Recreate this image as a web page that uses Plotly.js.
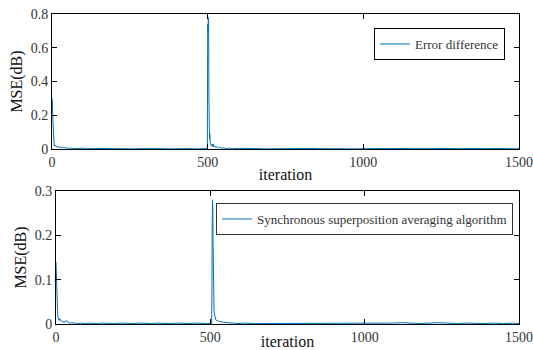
<!DOCTYPE html>
<html>
<head>
<meta charset="utf-8">
<script src="https://cdn.plot.ly/plotly-3.0.1.min.js"></script>
<style>html,body{margin:0;padding:0;background:#fff;}#chart{width:533px;height:350px;}</style>
</head>
<body>
<div id="chart"></div>
<script>
// Top panel: Error difference
const errIter = [0,1,2,3,4,5,6,7,8,10,12,14,16,18,20,23,26,30,34,38,42,46,50,55,60,70,80,90,100,115,130,150,170,190,210,230,250,270,290,310,330,350,370,390,410,430,450,470,490,499,
  500,501,502,503,504,505,506,507,508,510,512,514,516,518,520,523,526,530,535,540,545,550,560,570,580,600,620,650,680,710,740,770,800,830,860,890,920,950,980,1010,1040,1070,1100,1130,1160,1190,1220,1250,1280,1310,1340,1370,1400,1430,1460,1490,1500];
const errVal = [0.30,0.29,0.21,0.17,0.09,0.05,0.03,0.02,0.025,0.018,0.02,0.012,0.015,0.01,0.016,0.008,0.012,0.006,0.014,0.005,0.01,0.004,0.007,0.003,0.006,0.002,0.004,0.002,0.005,0.002,0.003,0.001,0.003,0.002,0.001,0.003,0.002,0.001,0.002,0.003,0.001,0.002,0.001,0.002,0.003,0.001,0.002,0.001,0.002,0.002,
  0.74,0.70,0.78,0.76,0.30,0.12,0.06,0.09,0.04,0.03,0.02,0.028,0.015,0.03,0.012,0.018,0.008,0.014,0.006,0.01,0.004,0.007,0.003,0.005,0.002,0.004,0.002,0.003,0.001,0.002,0.003,0.001,0.002,0.003,0.002,0.001,0.003,0.002,0.001,0.002,0.003,0.001,0.002,0.003,0.002,0.004,0.002,0.003,0.001,0.002,0.003,0.001,0.002,0.003,0.002,0.005,0.001];

// Bottom panel: Synchronous superposition averaging algorithm
const ssaIter = [0,1,2,3,4,5,6,8,10,12,15,18,22,26,30,34,36,40,45,50,60,70,80,95,110,130,150,170,190,210,230,250,270,290,310,330,350,370,390,410,430,450,470,490,504,
  505,506,507,508,509,510,511,512,514,516,518,520,524,528,532,540,550,560,575,590,610,640,670,700,730,760,790,820,850,880,910,940,970,1000,1030,1060,1090,1120,1150,1180,1210,1240,1270,1300,1330,1360,1390,1420,1450,1480,1500];
const ssaVal = [0.14,0.10,0.075,0.04,0.033,0.03,0.015,0.01,0.008,0.012,0.007,0.006,0.005,0.004,0.004,0.008,0.005,0.003,0.002,0.003,0.002,0.001,0.002,0.001,0.002,0.001,0.002,0.001,0.001,0.002,0.001,0.001,0.002,0.001,0.001,0.002,0.001,0.001,0.002,0.001,0.001,0.002,0.001,0.001,0.001,
  0.05,0.22,0.28,0.26,0.18,0.10,0.06,0.03,0.02,0.012,0.009,0.008,0.007,0.005,0.005,0.004,0.003,0.002,0.002,0.001,0.002,0.001,0.001,0.002,0.001,0.001,0.002,0.001,0.001,0.002,0.001,0.002,0.001,0.001,0.002,0.001,0.002,0.003,0.002,0.001,0.002,0.003,0.002,0.001,0.002,0.001,0.001,0.002,0.001,0.002,0.001];

const xTicks = [0, 500, 1000, 1500];
const yTicksTop = [0, 0.2, 0.4, 0.6, 0.8];
const yTicksBottom = [0, 0.1, 0.2, 0.3];
const names = ['Error difference', 'Synchronous superposition averaging algorithm'];

const lineColor = '#0072BD';
const font = 'Liberation Serif';

const traces = [
  {x: errIter, y: errVal, type: 'scatter', mode: 'lines', name: names[0],
   line: {color: lineColor, width: 1}, xaxis: 'x', yaxis: 'y', legend: 'legend'},
  {x: ssaIter, y: ssaVal, type: 'scatter', mode: 'lines', name: names[1],
   line: {color: lineColor, width: 1}, xaxis: 'x2', yaxis: 'y2', legend: 'legend2'}
];

function xax(domain, anchor) {
  return {domain: domain, anchor: anchor, range: [0, 1500], tickvals: xTicks, ticktext: xTicks.map(String),
    showline: true, mirror: 'ticks', linecolor: '#000', linewidth: 1, ticks: 'inside', ticklen: 5, tickcolor: '#000',
    showgrid: false, zeroline: false, tickfont: {family: font, size: 14, color: '#333'},
    title: {text: 'iteration', font: {family: font, size: 16, color: '#111'}, standoff: 0}, automargin: false};
}
function yax(domain, anchor, range, ticks) {
  return {domain: domain, anchor: anchor, range: range, tickvals: ticks, ticktext: ticks.map(String),
    showline: true, mirror: 'ticks', linecolor: '#000', linewidth: 1, ticks: 'inside', ticklen: 5, tickcolor: '#000',
    showgrid: false, zeroline: false, tickfont: {family: font, size: 14, color: '#333'},
    title: {text: 'MSE(dB)', font: {family: font, size: 16, color: '#111'}, standoff: 4}, automargin: false};
}

const layout = {
  width: 533, height: 350,
  margin: {l: 0, r: 0, t: 0, b: 0},
  paper_bgcolor: '#fff', plot_bgcolor: '#fff',
  font: {family: font},
  xaxis: xax([52/533, 519/533], 'y'),
  yaxis: yax([(350-149)/350, (350-14)/350], 'x', [0, 0.8], yTicksTop),
  xaxis2: xax([56/533, 519/533], 'y2'),
  yaxis2: yax([(350-324)/350, (350-191)/350], 'x2', [0, 0.3], yTicksBottom),
  legend: {x: 505/533, y: (350-28)/350, xanchor: 'right', yanchor: 'top', bgcolor: '#fff',
    bordercolor: '#000', borderwidth: 1, font: {family: font, size: 13, color: '#333'},
    tracegroupgap: 0, itemwidth: 30},
  legend2: {x: 513/533, y: (350-203)/350, xanchor: 'right', yanchor: 'top', bgcolor: '#fff',
    bordercolor: '#333', borderwidth: 1, font: {family: font, size: 13, color: '#333'},
    tracegroupgap: 0, itemwidth: 30},
  showlegend: true
};

Plotly.newPlot('chart', traces, layout, {displayModeBar: false, staticPlot: true});
</script>
</body>
</html>
